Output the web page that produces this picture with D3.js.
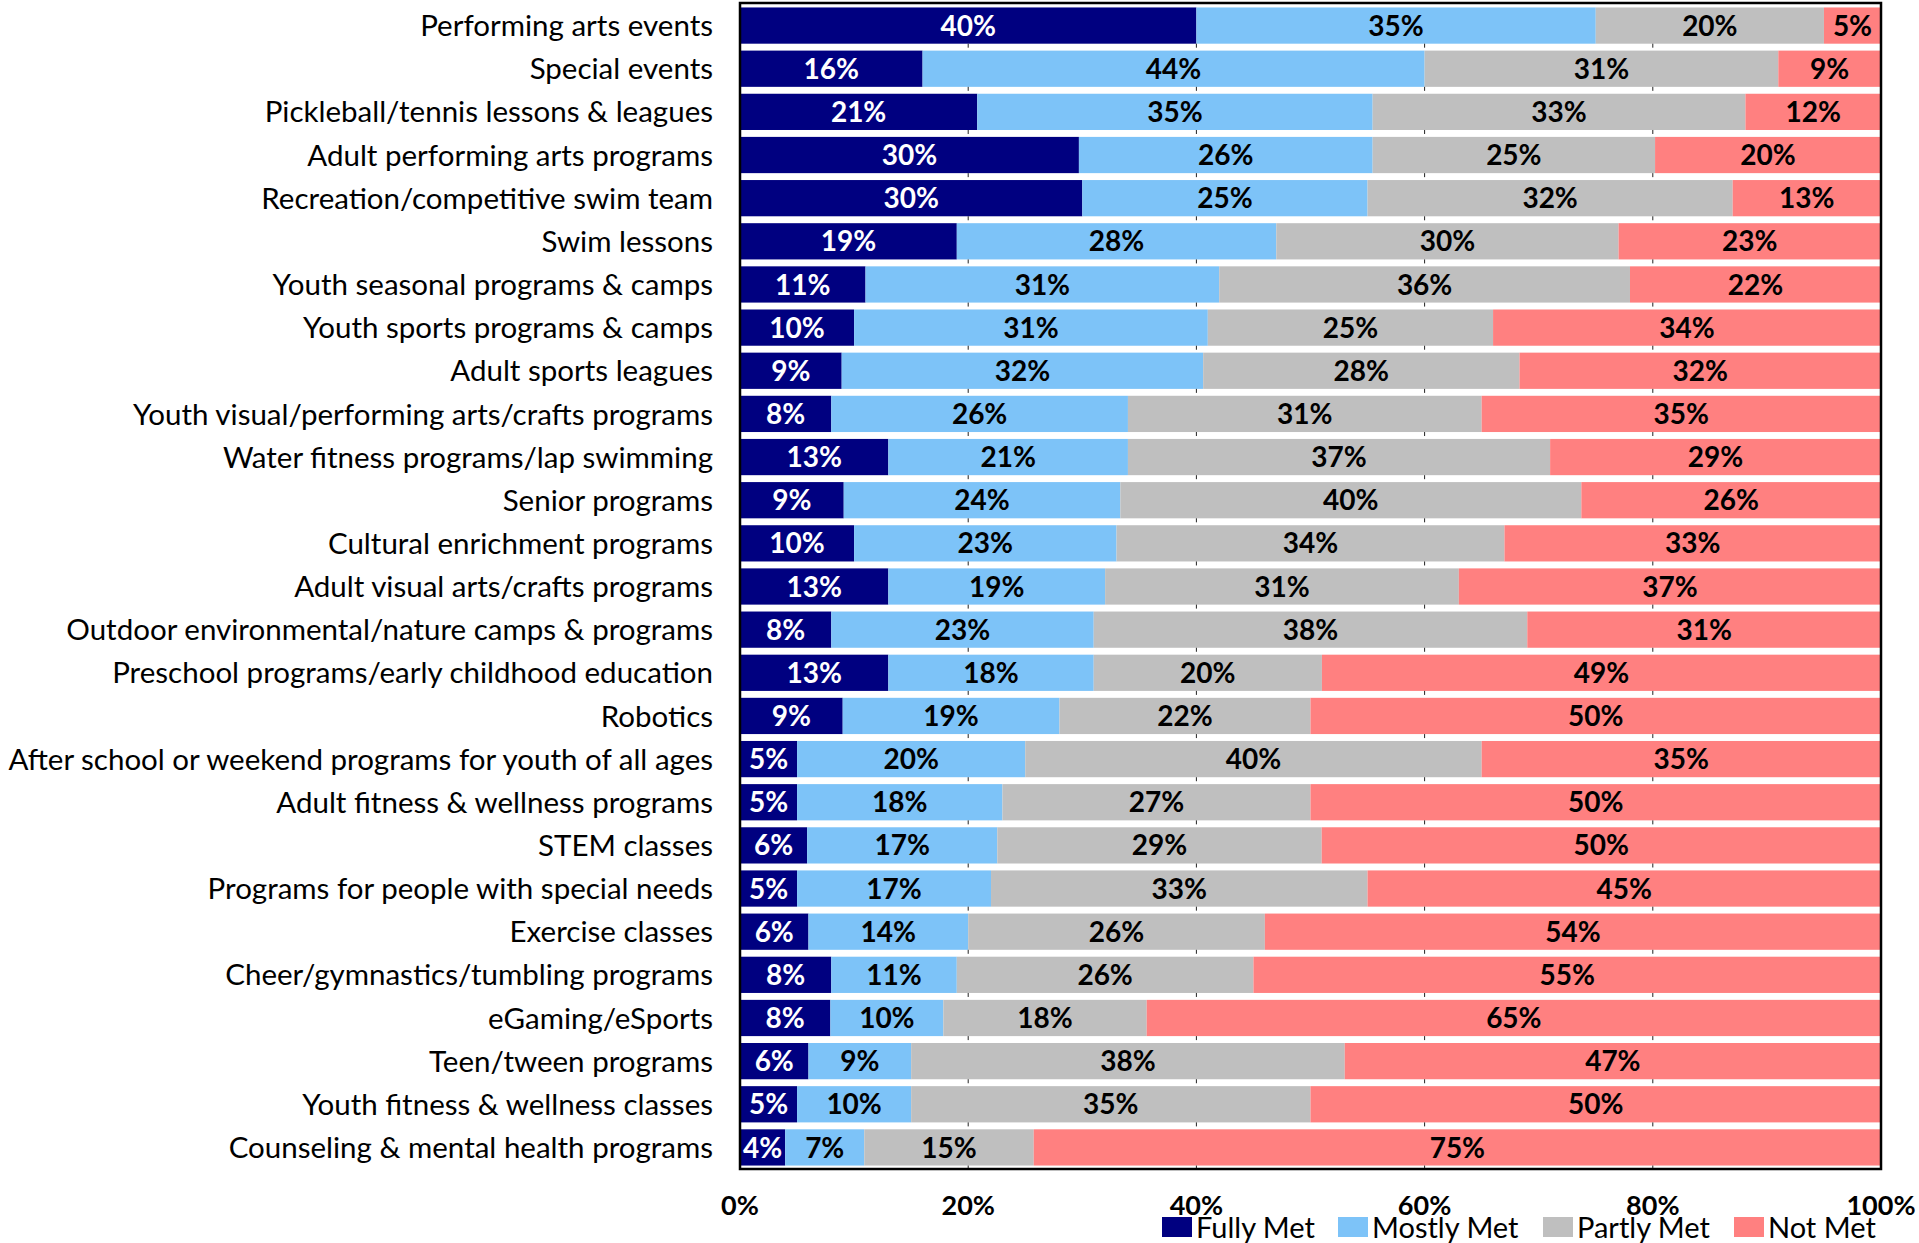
<!DOCTYPE html>
<html>
<head>
<meta charset="utf-8">
<script src="https://cdn.jsdelivr.net/npm/d3@7"></script>
<style>
  body { margin: 0; background: #fff; }
  text { font-family: Lato, "Open Sans", sans-serif; }
</style>
</head>
<body>
<svg width="1919" height="1243"></svg>
<script>
var categories = [
    "Performing arts events",
    "Special events",
    "Pickleball/tennis lessons & leagues",
    "Adult performing arts programs",
    "Recreation/competitive swim team",
    "Swim lessons",
    "Youth seasonal programs & camps",
    "Youth sports programs & camps",
    "Adult sports leagues",
    "Youth visual/performing arts/crafts programs",
    "Water fitness programs/lap swimming",
    "Senior programs",
    "Cultural enrichment programs",
    "Adult visual arts/crafts programs",
    "Outdoor environmental/nature camps & programs",
    "Preschool programs/early childhood education",
    "Robotics",
    "After school or weekend programs for youth of all ages",
    "Adult fitness & wellness programs",
    "STEM classes",
    "Programs for people with special needs",
    "Exercise classes",
    "Cheer/gymnastics/tumbling programs",
    "eGaming/eSports",
    "Teen/tween programs",
    "Youth fitness & wellness classes",
    "Counseling & mental health programs"
]

var fullyMet  = [40, 16, 21, 30, 30, 19, 11, 10, 9, 8, 13, 9, 10, 13, 8, 13, 9, 5, 5, 6, 5, 6, 8, 8, 6, 5, 4]
var mostlyMet = [35, 44, 35, 26, 25, 28, 31, 31, 32, 26, 21, 24, 23, 19, 23, 18, 19, 20, 18, 17, 17, 14, 11, 10, 9, 10, 7]
var partlyMet = [20, 31, 33, 25, 32, 30, 36, 25, 28, 31, 37, 40, 34, 31, 38, 20, 22, 40, 27, 29, 33, 26, 26, 18, 38, 35, 15]
var notMet    = [5, 9, 12, 20, 13, 23, 22, 34, 32, 35, 29, 26, 33, 37, 31, 49, 50, 35, 50, 50, 45, 54, 55, 65, 47, 50, 75]

var seriesNames = ["Fully Met", "Mostly Met", "Partly Met", "Not Met"]
var seriesColors = ["#000080", "#7dc3f8", "#bfbfbf", "#ff8080"]
var labelColors = ["#fff", "#000", "#000", "#000"]
var tickValues = [0, 0.2, 0.4, 0.6, 0.8, 1]

var rows = categories.map((c, i) => ({
    category: c,
    "Fully Met": fullyMet[i],
    "Mostly Met": mostlyMet[i],
    "Partly Met": partlyMet[i],
    "Not Met": notMet[i]
}))

var svg = d3.select("svg")
var plotLeft = 740, plotRight = 1881, plotTop = 4, plotBottom = 1169

var xScale = d3.scaleLinear().domain([0, 1]).range([plotLeft, plotRight])
var yScale = d3.scaleBand().domain(categories).range([plotTop, plotBottom]).paddingInner(0.16).paddingOuter(0.08)
var colorScale = d3.scaleOrdinal().domain(seriesNames).range(seriesColors)
var textColor = d3.scaleOrdinal().domain(seriesNames).range(labelColors)

var stacked = d3.stack().keys(seriesNames).offset(d3.stackOffsetExpand)(rows)

var groups = svg.append("g")
    .selectAll("g")
    .data(stacked)
    .enter()
    .append("g")
    .attr("fill", d => colorScale(d.key))

groups.selectAll("rect")
    .data(d => d)
    .enter()
    .append("rect")
    .attr("x", d => xScale(d[0]))
    .attr("width", d => xScale(d[1]) - xScale(d[0]))
    .attr("y", d => yScale(d.data.category))
    .attr("height", yScale.bandwidth())

// short grid ticks showing in the gaps under each bar
var gridPos = tickValues.slice(1, -1)
svg.append("g")
    .selectAll("g")
    .data(categories)
    .enter()
    .append("g")
    .selectAll("line")
    .data(c => gridPos.map(v => ({ c: c, v: v })))
    .enter()
    .append("line")
    .attr("x1", d => xScale(d.v)).attr("x2", d => xScale(d.v))
    .attr("y1", d => yScale(d.c) + yScale.bandwidth())
    .attr("y2", d => yScale(d.c) + yScale.bandwidth() + 4)
    .attr("stroke", "#222")
    .attr("stroke-width", 1)

// value labels
stacked.forEach(s => {
    svg.append("g")
        .selectAll("text")
        .data(s)
        .enter()
        .append("text")
        .attr("x", d => (xScale(d[0]) + xScale(d[1])) / 2)
        .attr("y", d => yScale(d.data.category) + yScale.bandwidth() / 2)
        .attr("dy", "0.36em")
        .attr("text-anchor", "middle")
        .attr("font-size", 28)
        .attr("font-weight", "bold")
        .attr("fill", textColor(s.key))
        .text(d => d.data[s.key] + "%")
})

// frame
svg.append("rect")
    .attr("x", plotLeft).attr("y", plotTop - 1)
    .attr("width", plotRight - plotLeft).attr("height", plotBottom - plotTop + 1)
    .attr("fill", "none")
    .attr("stroke", "#000")
    .attr("stroke-width", 2.5)

// category labels
svg.append("g")
    .selectAll("text")
    .data(categories)
    .enter()
    .append("text")
    .attr("x", 713)
    .attr("y", d => yScale(d) + yScale.bandwidth() / 2)
    .attr("dy", "0.36em")
    .attr("text-anchor", "end")
    .attr("font-size", 29.5)
    .attr("fill", "#000")
    .text(d => d)

// x axis labels
svg.append("g")
    .selectAll("text")
    .data(tickValues)
    .enter()
    .append("text")
    .attr("x", d => xScale(d))
    .attr("y", 1215)
    .attr("text-anchor", "middle")
    .attr("font-size", 27)
    .attr("font-weight", "bold")
    .text(d => d3.format(".0%")(d))

// legend
var legendX = [1162, 1338, 1543, 1734]
var legend = svg.append("g")
    .selectAll("g")
    .data(seriesNames)
    .enter()
    .append("g")
    .attr("transform", (d, i) => "translate(" + legendX[i] + ",1217)")

legend.append("rect")
    .attr("width", 30).attr("height", 20)
    .attr("fill", d => colorScale(d))

legend.append("text")
    .attr("x", 34)
    .attr("y", 21)
    .attr("font-size", 29)
    .text(d => d)
</script>
</body>
</html>
